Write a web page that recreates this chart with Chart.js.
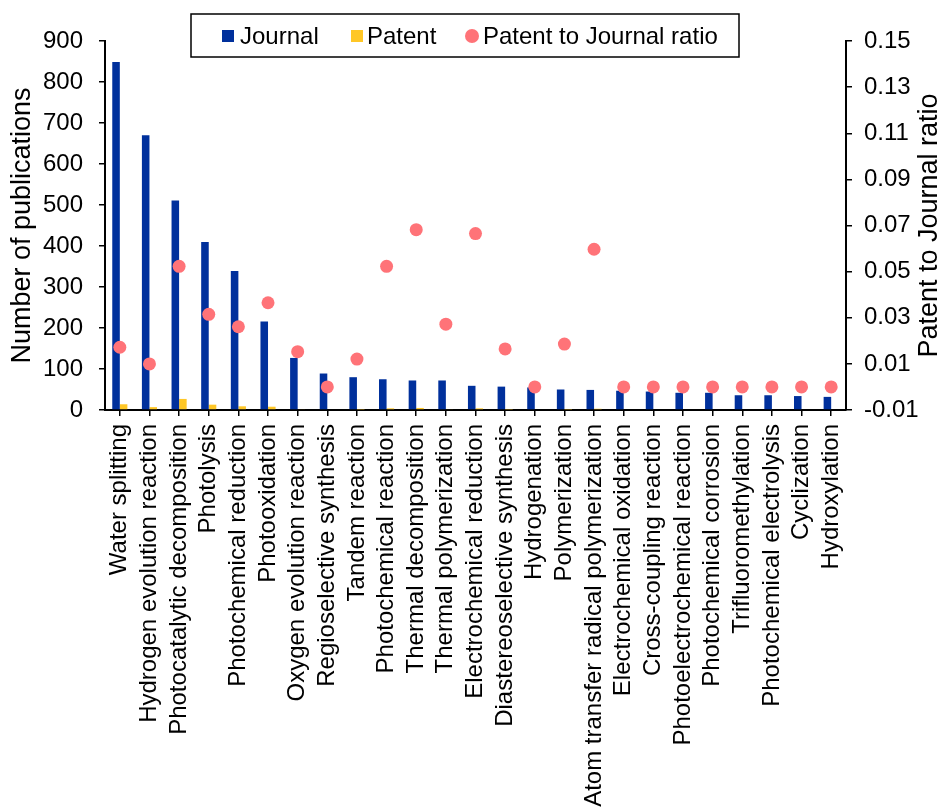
<!DOCTYPE html>
<html>
<head>
<meta charset="utf-8">
<script src="https://cdn.jsdelivr.net/npm/chart.js@4"></script>
<style>
    html, body { margin: 0; padding: 0; background: #fff; }
    #wrap { width: 942px; height: 807px; }
</style>
</head>
<body>
<div id="wrap"><canvas id="myChart" width="942" height="807"></canvas></div>
<script>
const categories = ['Water splitting', 'Hydrogen evolution reaction', 'Photocatalytic decomposition', 'Photolysis',
    'Photochemical reduction', 'Photooxidation', 'Oxygen evolution reaction', 'Regioselective synthesis',
    'Tandem reaction', 'Photochemical reaction', 'Thermal decomposition', 'Thermal polymerization',
    'Electrochemical reduction', 'Diastereoselective synthesis', 'Hydrogenation', 'Polymerization',
    'Atom transfer radical polymerization', 'Electrochemical oxidation', 'Cross-coupling reaction',
    'Photoelectrochemical reaction', 'Photochemical corrosion', 'Trifluoromethylation',
    'Photochemical electrolysis', 'Cyclization', 'Hydroxylation'];
const journal = [849, 670, 511, 410, 339, 216, 127, 89, 80, 75, 72, 72, 59, 57, 55, 50, 49, 47, 45, 42, 42, 36, 36, 34, 32];
const patent = [14, 7, 27, 13, 9, 8, 2, 0, 1, 4, 5, 2, 4, 1, 0, 1, 3, 0, 0, 0, 0, 0, 0, 0, 0];
const ratio = [0.0172, 0.0100, 0.0523, 0.0315, 0.0261, 0.0365, 0.0153, 0, 0.0121, 0.0523, 0.0682, 0.0272,
    0.0665, 0.0165, 0, 0.0186, 0.0597, 0, 0, 0, 0, 0, 0, 0, 0];
const leftTicks = [0, 900, 100];
const rightTicks = [-0.01, 0.15, 0.02];

const FONT = '"Liberation Sans", Arial, sans-serif';
const FS = 24;
const TITLE_FS = 27;
Chart.defaults.color = '#000';
Chart.defaults.font.family = FONT;
Chart.defaults.font.size = FS;

// legend box + right axis title drawn by hand (Excel style)
const extras = {
    id: 'extras',
    afterDraw(chart) {
        const c = chart.ctx;
        c.save();
        c.fillStyle = '#fff';
        c.fillRect(191, 14, 548, 43);
        c.strokeStyle = '#000';
        c.lineWidth = 1.5;
        c.strokeRect(191, 14, 548, 43);
        c.font = FS + 'px ' + FONT;
        c.textBaseline = 'middle';
        const ds = chart.data.datasets;
        c.fillStyle = ds[0].backgroundColor;
        c.fillRect(222, 30, 12, 12);
        c.fillStyle = ds[1].backgroundColor;
        c.fillRect(351, 30, 12, 12);
        c.fillStyle = ds[2].backgroundColor;
        c.beginPath();
        c.arc(472, 36, 7, 0, Math.PI * 2);
        c.fill();
        c.fillStyle = '#000';
        c.fillText(ds[0].label, 240, 37);
        c.fillText(ds[1].label, 367, 37);
        c.fillText(ds[2].label, 483, 37);

        c.font = TITLE_FS + 'px ' + FONT;
        c.translate(930, (chart.chartArea.top + chart.chartArea.bottom) / 2);
        c.rotate(-Math.PI / 2);
        c.textAlign = 'center';
        c.fillText('Patent to Journal ratio', 0, 0);
        c.restore();
    }
};

new Chart(document.getElementById('myChart'), {
    type: 'bar',
    data: {
        labels: categories,
        datasets: [{
            label: 'Journal',
            data: journal,
            backgroundColor: '#00309C',
            yAxisID: 'y',
            order: 1,
            categoryPercentage: 0.51,
            barPercentage: 1.0
        }, {
            label: 'Patent',
            data: patent,
            backgroundColor: '#FFC726',
            yAxisID: 'y',
            order: 1,
            categoryPercentage: 0.51,
            barPercentage: 1.0
        }, {
            type: 'line',
            label: 'Patent to Journal ratio',
            data: ratio,
            backgroundColor: '#FF7378',
            borderColor: '#FF7378',
            showLine: false,
            pointRadius: 6.5,
            pointBorderWidth: 0,
            yAxisID: 'y1',
            order: 0
        }]
    },
    options: {
        responsive: false,
        animation: false,
        layout: { padding: { top: 41, right: 0, bottom: 0, left: 0 } },
        scales: {
            x: {
                grid: { drawOnChartArea: false, offset: false, tickLength: 6, color: '#000', lineWidth: 1.5 },
                border: { color: '#000', width: 2 },
                ticks: { autoSkip: false, maxRotation: 90, minRotation: 90, padding: 8 },
                afterFit(s) { s.height = 397; }
            },
            y: {
                position: 'left',
                min: leftTicks[0],
                max: leftTicks[1],
                ticks: { stepSize: leftTicks[2], padding: 16 },
                grid: { drawOnChartArea: false, tickLength: 6, color: '#000', lineWidth: 1.5 },
                border: { color: '#000', width: 2 },
                title: { display: true, text: 'Number of publications', font: { size: TITLE_FS, lineHeight: 1 }, padding: { top: 9, bottom: 0 } },
                afterFit(s) { s.width = 105; }
            },
            y1: {
                position: 'right',
                min: rightTicks[0],
                max: rightTicks[1],
                ticks: { stepSize: rightTicks[2], padding: 12, callback: v => v.toFixed(2) },
                grid: { drawOnChartArea: false, tickLength: 6, color: '#000', lineWidth: 1.5 },
                border: { color: '#000', width: 2 },
                afterFit(s) { s.width = 96; }
            }
        },
        plugins: {
            legend: { display: false },
            tooltip: { enabled: false }
        }
    },
    plugins: [extras]
});
</script>
</body>
</html>
